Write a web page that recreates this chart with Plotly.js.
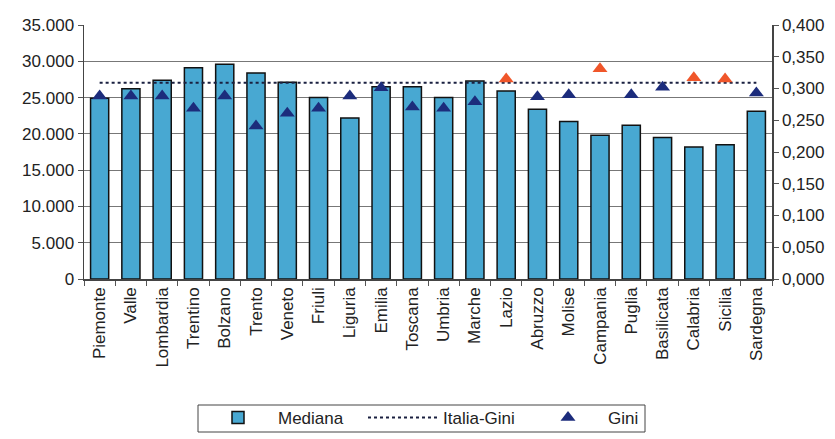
<!DOCTYPE html>
<html><head><meta charset="utf-8">
<script src="https://cdn.plot.ly/plotly-3.0.1.min.js"></script>
<style>body{margin:0;background:#fff}#c{width:835px;height:439px}</style>
</head><body><div id="c"></div>
<script>
const regions = ["Piemonte","Valle","Lombardia","Trentino","Bolzano","Trento","Veneto","Friuli","Liguria","Emilia","Toscana","Umbria","Marche","Lazio","Abruzzo","Molise","Campania","Puglia","Basilicata","Calabria","Sicilia","Sardegna"];
const mediana = [24900,26200,27400,29100,29600,28400,27100,25000,22200,26500,26500,25000,27300,25900,23400,21700,19800,21200,19500,18200,18500,23100];
const gini = [0.288,0.288,0.288,0.269,0.288,0.241,0.261,0.269,0.288,0.301,0.271,0.269,0.279,0.315,0.287,0.290,0.331,0.290,0.302,0.317,0.315,0.293];
const aboveItaly = [false,false,false,false,false,false,false,false,false,false,false,false,false,true,false,false,true,false,false,true,true,false];
const italiaGini = 0.309;

const navy = "#1c2c7c", red = "#f0562a";
const traces = [
  {type:"bar", name:"Mediana", x:regions, y:mediana,
   marker:{color:"#48a8d2", line:{color:"#111", width:1.5}}},
  {type:"scatter", mode:"lines", name:"Italia-Gini", x:[regions[0], regions[regions.length-1]], y:[italiaGini, italiaGini],
   yaxis:"y2", line:{color:"#1a2040", width:2, dash:"dot"}},
  {type:"scatter", mode:"markers", name:"Gini", x:regions, y:gini, yaxis:"y2",
   marker:{symbol:"triangle-up", size:13, color:aboveItaly.map(a=>a?red:navy)}}
];
const font = {family:"Liberation Sans, Arial, sans-serif", size:17, color:"#222"};
// legend frame in pixel terms converted to paper coords (plot area 84..772 x, 25..279 y)
const px = v => (v-84)/688, py = v => (279-v)/254;
const layout = {
  width:835, height:439,
  margin:{l:84, r:63, t:25, b:160, autoexpand:false},
  paper_bgcolor:"#fff", plot_bgcolor:"#fff",
  separators:",.",
  font:font,
  showlegend:true,
  bargap:0.42,
  xaxis:{type:"category", tickangle:-90, tickson:"boundaries", ticks:"outside", ticklen:5, tickcolor:"#555",
    showline:true, linecolor:"#444", linewidth:1.5, showgrid:false, tickfont:{size:17}, range:[-0.5,21.5]},
  yaxis:{range:[0,35000], dtick:5000, tickformat:",.0f", showgrid:true, gridcolor:"#777", gridwidth:1,
    showline:true, linecolor:"#444", linewidth:1.5, ticks:"outside", ticklen:5, tickcolor:"#555", zeroline:false, tickfont:{size:17}},
  yaxis2:{overlaying:"y", side:"right", range:[0,0.4], dtick:0.05, tickformat:".3f", showgrid:false,
    showline:true, linecolor:"#444", linewidth:1.5, ticks:"outside", ticklen:5, tickcolor:"#555", zeroline:false, tickfont:{size:17}},
  legend:{orientation:"h", xref:"container", yref:"container", x:198/835, xanchor:"left", y:(439-400)/439, yanchor:"top",
    bgcolor:"rgba(0,0,0,0)", borderwidth:0, font:{size:17}, itemwidth:70, entrywidth:80, tracegroupgap:0},
  shapes:[{type:"rect", xref:"paper", yref:"paper", x0:px(198), x1:px(645), y0:py(405), y1:py(432),
    line:{color:"#444", width:1}, fillcolor:"rgba(0,0,0,0)"}]
};
Plotly.newPlot("c", traces, layout, {displayModeBar:false, staticPlot:true});
</script></body></html>
